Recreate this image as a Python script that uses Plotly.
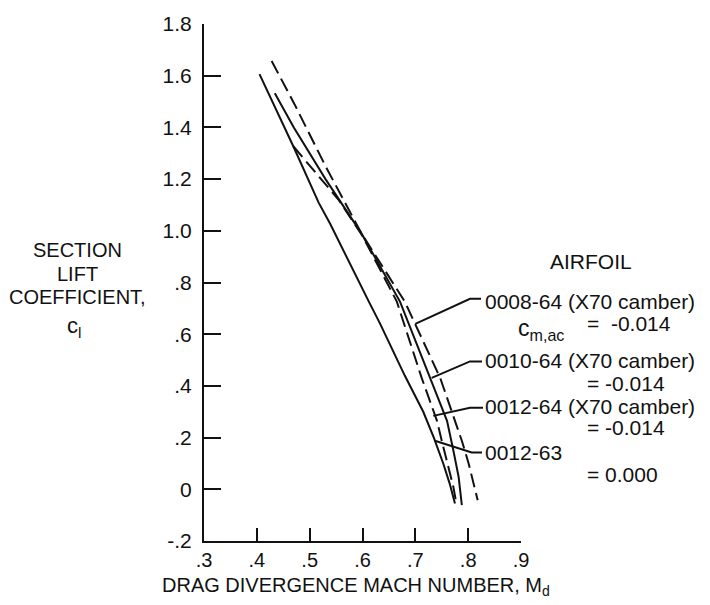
import plotly.graph_objects as go

# ---- data ----
M_0012_63 = [0.405, 0.469, 0.517, 0.539, 0.612, 0.633, 0.680, 0.715, 0.735, 0.753, 0.765, 0.775]
CL_0012_63 = [1.606, 1.327, 1.109, 1.026, 0.726, 0.642, 0.440, 0.300, 0.200, 0.099, 0.022, -0.055]

M_0012_64 = [0.469, 0.554, 0.600, 0.665, 0.712, 0.741, 0.750, 0.763, 0.772, 0.777]
CL_0012_64 = [1.327, 1.122, 0.980, 0.726, 0.431, 0.265, 0.188, 0.086, 0.009, -0.048]

M_0010_64 = [0.434, 0.470, 0.530, 0.598, 0.671, 0.728, 0.760, 0.772, 0.782, 0.788]
CL_0010_64 = [1.532, 1.400, 1.200, 0.990, 0.726, 0.431, 0.265, 0.150, 0.047, -0.061]

M_0008_64 = [0.428, 0.472, 0.530, 0.598, 0.680, 0.700, 0.747, 0.775, 0.788, 0.801, 0.810, 0.818]
CL_0008_64 = [1.657, 1.487, 1.250, 0.990, 0.726, 0.640, 0.431, 0.265, 0.188, 0.099, 0.022, -0.042]

x_tickvals = [0.3, 0.4, 0.5, 0.6, 0.7, 0.8, 0.9]
x_ticktext = [".3", ".4", ".5", ".6", ".7", ".8", ".9"]
y_tickvals = [-0.2, 0.0, 0.2, 0.4, 0.6, 0.8, 1.0, 1.2, 1.4, 1.6, 1.8]
y_ticktext = ["-.2", "0", ".2", ".4", ".6", ".8", "1.0", "1.2", "1.4", "1.6", "1.8"]

airfoil_names = ["0008-64 (X70 camber)", "0010-64 (X70 camber)", "0012-64 (X70 camber)", "0012-63"]
cmac_values = ["-0.014", "-0.014", "-0.014", "0.000"]
# leader anchor points on the curves (M, cl)
leader_M = [0.700, 0.731, 0.734, 0.737]
leader_CL = [0.640, 0.431, 0.284, 0.188]

X0, X1 = 0.3, 0.9
Y0, Y1 = -0.2, 1.8
W, H = 710, 605
ML, MR, MT, MB = 204, 189, 20, 64
PW = W - ML - MR
PH = H - MT - MB

def px_to_paper(px, py):
    return (px - ML) / PW, (H - MB - py) / PH

def data_to_paper(m, c):
    return (m - X0) / (X1 - X0), (c - Y0) / (Y1 - Y0)

FONT = "Liberation Sans"
BLACK = "#111111"

fig = go.Figure()
curves = [
    (M_0012_63, CL_0012_63, "solid"),
    (M_0012_64, CL_0012_64, "14px,6px"),
    (M_0010_64, CL_0010_64, "solid"),
    (M_0008_64, CL_0008_64, "14px,6px"),
]
for xs, ys, dash in curves:
    fig.add_trace(go.Scatter(x=xs, y=ys, mode="lines",
                             line=dict(color=BLACK, width=2, dash=dash),
                             hoverinfo="skip"))

shapes = []
annotations = []

# leaders: curve point -> elbow -> text start (pixel positions for elbow/end)
elbows_px = [(470, 297), (470, 360), (470, 406.7), (471.7, 451.7)]
ends_px = [(481, 297), (482, 360), (483, 406.7), (482, 451.7)]
for m, c, (ex, ey), (tx, ty) in zip(leader_M, leader_CL, elbows_px, ends_px):
    p0 = data_to_paper(m, c)
    p1 = px_to_paper(ex, ey)
    p2 = px_to_paper(tx, ty)
    shapes.append(dict(type="path", xref="paper", yref="paper",
                       path=f"M {p0[0]},{p0[1]} L {p1[0]},{p1[1]} L {p2[0]},{p2[1]}",
                       line=dict(color=BLACK, width=2)))

def add_text(text, px, py, xanchor="left", size=21):
    x, y = px_to_paper(px, py)
    annotations.append(dict(text=text, x=x, y=y, xref="paper", yref="paper",
                            xanchor=xanchor, yanchor="middle", showarrow=False,
                            font=dict(family=FONT, size=size, color=BLACK)))

add_text("AIRFOIL", 591, 259, xanchor="center")
name_y = [300, 359, 405, 452]
for name, ny in zip(airfoil_names, name_y):
    add_text(name, 483, ny)
add_text("c<sub>m,ac</sub>", 516, 328, size=23)
val_y = [322, 382, 427, 474]
for i, (v, vy) in enumerate(zip(cmac_values, val_y)):
    add_text("=  " + v if i == 0 else "= " + v, 585, vy)

# axis titles
add_text("DRAG DIVERGENCE MACH NUMBER, M<sub>d</sub>", 160, 587, size=20)
for t, yy in [("SECTION", 248), ("LIFT", 272), ("COEFFICIENT,", 295)]:
    add_text(t, 78, yy, xanchor="center", size=20)
add_text("c<sub>l</sub>", 74, 325, xanchor="center", size=22)

fig.update_layout(
    width=W, height=H,
    margin=dict(l=ML, r=MR, t=MT, b=MB),
    paper_bgcolor="white", plot_bgcolor="white",
    showlegend=False,
    font=dict(family=FONT, size=21, color=BLACK),
    shapes=shapes, annotations=annotations,
    xaxis=dict(range=[X0, X1], tickvals=x_tickvals, ticktext=x_ticktext,
               ticks="inside", ticklen=13, tickwidth=2, tickcolor=BLACK,
               showline=True, linewidth=2, linecolor=BLACK,
               showgrid=False, zeroline=False, fixedrange=True,
               tickfont=dict(size=20), ticklabelstandoff=0),
    yaxis=dict(range=[Y0, Y1], tickvals=y_tickvals, ticktext=y_ticktext,
               ticks="inside", ticklen=17, tickwidth=2, tickcolor=BLACK,
               showline=True, linewidth=2, linecolor=BLACK,
               showgrid=False, zeroline=False, fixedrange=True,
               ticklabelstandoff=6),
)

fig.write_html("out.html")
